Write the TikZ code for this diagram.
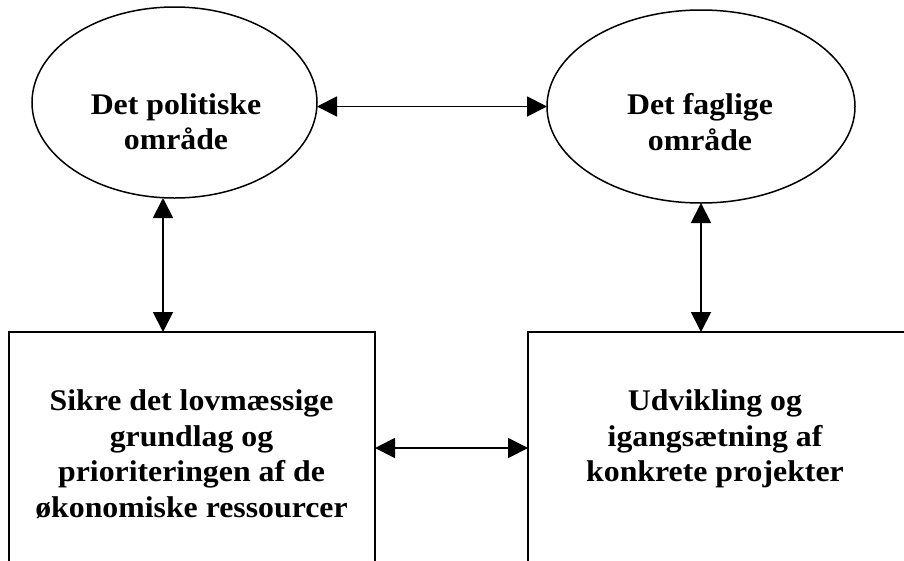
\documentclass[tikz,border=0pt]{standalone}
\usepackage{fontspec}
\setmainfont{Liberation Serif}[FakeStretch=1.06]
\usetikzlibrary{arrows.meta,shapes.geometric}
\tikzset{
  shp/.style={draw=black, line width=1.5pt, inner sep=0pt, outer sep=0pt},
  ell/.style={shp, ellipse},
  boxshape/.style={shp, rectangle},
  lbl/.style={align=center, inner sep=0pt, font=\bfseries\fontsize{30}{35.5}\selectfont},
  dbl/.style={line width=1.9pt, {Triangle[length=20pt,width=20pt]}-{Triangle[length=20pt,width=20pt]}}
}
\begin{document}
\begin{tikzpicture}[x=1pt,y=-1pt]
\useasboundingbox (0,0) rectangle (904,560);
\clip (0,0) rectangle (904,560);
\node[ell, minimum width=285pt, minimum height=191pt] (lell) at (174.5,102.5) {};
\node[ell, minimum width=308pt, minimum height=193pt] (rell) at (701,106.5) {};
\node[boxshape, minimum width=366pt, minimum height=300pt] (lbox) at (192,482) {};
\node[boxshape, minimum width=382pt, minimum height=300pt] (rbox) at (719,482) {};
\node[lbl, anchor=base] (ltxt) at (176,149.5) {Det politiske\\område};
\node[lbl, anchor=base] (rtxt) at (700,150) {Det faglige\\område};
\node[lbl, anchor=base] (lbtxt) at (191.5,517) {Sikre det lovmæssige\\grundlag og\\prioriteringen af de\\økonomiske ressourcer};
\node[lbl, anchor=base] (rbtxt) at (715,481.5) {Udvikling og\\igangsætning af\\konkrete projekter};
\coordinate (la) at (163,0);
\coordinate (ba) at (0,448);
\draw[dbl] (lell.east |- rell.west) -- (rell.west);
\draw[dbl] (lell.south -| la) -- (lbox.north -| la);
\draw[dbl] (rell.south) -- (rbox.north -| rell.south);
\draw[dbl] (lbox.east |- ba) -- (rbox.west |- ba);
\end{tikzpicture}
\end{document}
